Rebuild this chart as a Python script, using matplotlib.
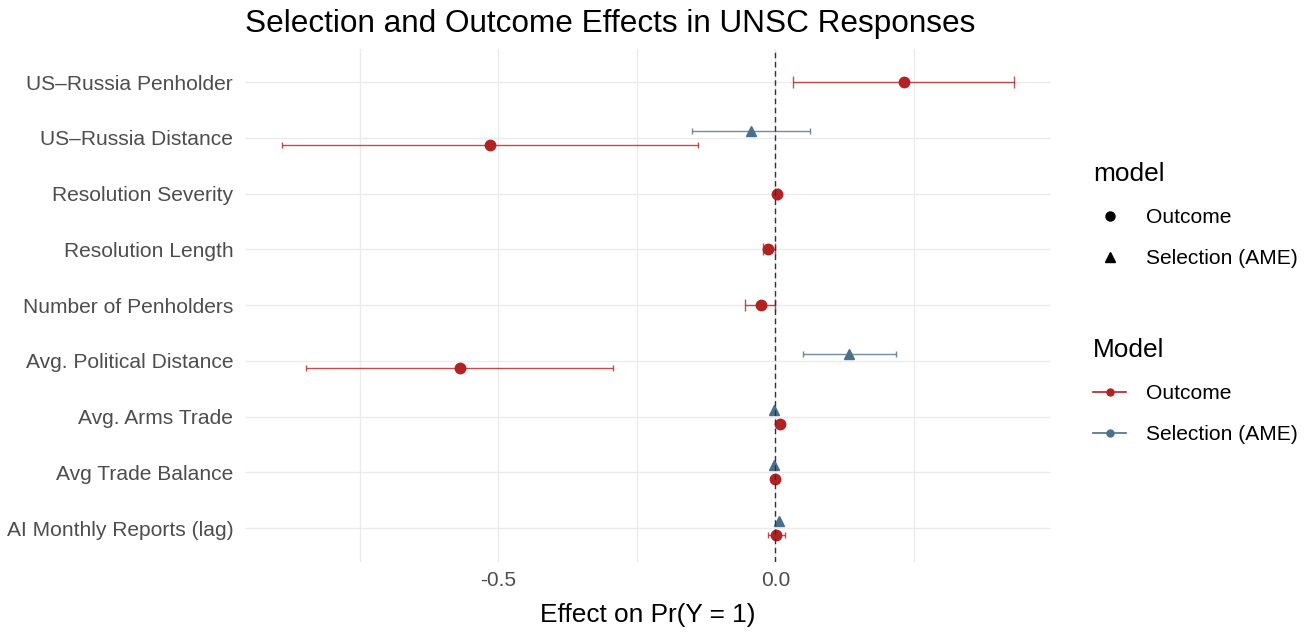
import numpy as np
import matplotlib
matplotlib.use("Agg")
import matplotlib.pyplot as plt
from matplotlib.lines import Line2D

plt.rcParams['font.family'] = ['Liberation Sans', 'DejaVu Sans']

# terms, top to bottom
terms = ['US\u2013Russia Penholder', 'US\u2013Russia Distance', 'Resolution Severity',
         'Resolution Length', 'Number of Penholders', 'Avg. Political Distance',
         'Avg. Arms Trade', 'Avg Trade Balance', 'AI Monthly Reports (lag)']

# outcome model estimates and 95% CI
outcome_est = [0.231, -0.515, 0.002, -0.013, -0.027, -0.570, 0.008, 0.000, 0.001]
outcome_lo = [0.031, -0.891, 0.000, -0.023, -0.055, -0.847, 0.006, -0.002, -0.013]
outcome_hi = [0.431, -0.139, 0.004, 0.000, 0.000, -0.294, 0.010, 0.002, 0.018]

# selection model (AME), missing where term not in selection eq.
nan = np.nan
selection_est = [nan, -0.045, nan, nan, nan, 0.133, -0.002, -0.002, 0.007]
selection_lo = [nan, -0.150, nan, nan, nan, 0.049, -0.004, -0.004, 0.005]
selection_hi = [nan, 0.063, nan, nan, nan, 0.218, 0.000, 0.000, 0.009]

red = '#B22222'
blue = '#4A708B'

o_est = np.array(outcome_est); o_lo = np.array(outcome_lo); o_hi = np.array(outcome_hi)
s_est = np.array(selection_est); s_lo = np.array(selection_lo); s_hi = np.array(selection_hi)

pos = np.arange(len(terms))
both = ~np.isnan(s_est)
dodge = 0.125
y_out = pos + np.where(both, dodge, 0.0)
y_sel = pos - dodge

fig = plt.figure(figsize=(13.16, 6.34), dpi=100)
ax = fig.add_axes([245/1316, 1 - 561.6/634, (1051 - 245)/1316, (561.6 - 48.6)/634])

# gridlines
for v in [-0.75, -0.5, -0.25, 0.0, 0.25]:
    ax.axvline(v, color='#EBEBEB', lw=1.0, zorder=0)
for p in pos:
    ax.axhline(p, color='#EBEBEB', lw=1.0, zorder=0)

ax.axvline(0, color='#333333', lw=1.0, ls=(0, (4, 2.6)), zorder=4)

# outcome (caps are half as wide where rows are dodged, like ggplot)
for mask, cap in [(~both, 4.3), (both, 2.2)]:
    ax.errorbar(o_est[mask], y_out[mask],
                xerr=[o_est[mask] - o_lo[mask], o_hi[mask] - o_est[mask]], fmt='none',
                ecolor=red, elinewidth=1.0, capsize=cap, capthick=1.0, alpha=0.8, zorder=2)
ax.plot(o_est, y_out, 'o', color=red, ms=7.5, zorder=3)

# selection
m = both
ax.errorbar(s_est[m], y_sel[m], xerr=[s_est[m] - s_lo[m], s_hi[m] - s_est[m]], fmt='none',
            ecolor=blue, elinewidth=1.0, capsize=2.2, capthick=1.0, alpha=0.8, zorder=2)
ax.plot(s_est[m], y_sel[m], '^', color=blue, ms=7.5, zorder=3)

lo_all = min(o_lo.min(), np.nanmin(s_lo))
hi_all = max(o_hi.max(), np.nanmax(s_hi))
pad = 0.05 * (hi_all - lo_all)
ax.set_xlim(lo_all - pad, hi_all + pad)
ax.set_ylim(len(terms) - 0.4, -0.6)

ax.set_yticks(pos)
ax.set_yticklabels(terms)
ax.set_xticks([-0.5, 0.0])
ax.set_xticklabels(['-0.5', '0.0'])
ax.tick_params(length=0, labelsize=15.1, labelcolor='#4D4D4D')
ax.tick_params(axis='y', pad=8.5)
ax.tick_params(axis='x', pad=7)
for s in ax.spines.values():
    s.set_visible(False)

ax.set_xlabel('Effect on Pr(Y = 1)', fontsize=18.9, labelpad=9)
ax.set_title('Selection and Outcome Effects in UNSC Responses', fontsize=22.7,
             loc='left', pad=12)

# legends
leg_kw = dict(loc='upper left', frameon=False, fontsize=15.1, title_fontsize=18.9,
              alignment='left', handlelength=1.6, handletextpad=0.95, labelspacing=1.05)
shape_handles = [Line2D([], [], marker='o', color='black', ls='none', ms=6.5),
                 Line2D([], [], marker='^', color='black', ls='none', ms=6.5)]
fig.legend(shape_handles, ['Outcome', 'Selection (AME)'], title='model',
           bbox_to_anchor=(1074/1316, 1 - 143/634), **leg_kw)
color_handles = [Line2D([], [], marker='o', color=red, ms=5, lw=1.2),
                 Line2D([], [], marker='o', color=blue, ms=5, lw=1.2)]
fig.legend(color_handles, ['Outcome', 'Selection (AME)'], title='Model',
           bbox_to_anchor=(1074/1316, 1 - 319/634), **leg_kw)

fig.savefig('out.png', dpi=100)
